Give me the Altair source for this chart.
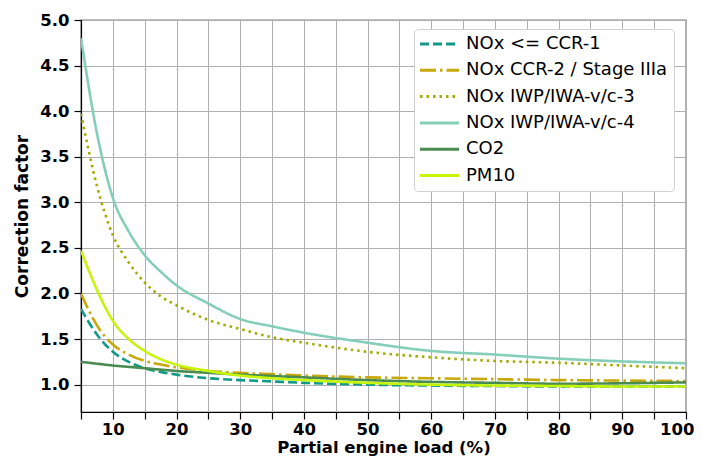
import altair as alt
import pandas as pd

series_names = [
    "NOx <= CCR-1",
    "NOx CCR-2 / Stage IIIa",
    "NOx IWP/IWA-v/c-3",
    "NOx IWP/IWA-v/c-4",
    "CO2",
    "PM10",
]
colors = ["#119a88", "#c8a80a", "#9fac00", "#85cfb8", "#4a8c50", "#c6f50a"]
dashes = [[9, 4], [16, 4, 2.5, 4], [2.5, 4], [1, 0], [1, 0], [1, 0]]

load = [5, 7.5, 10, 12.5, 15, 17.5, 20, 25, 30, 35, 40, 50, 60, 70, 80, 90, 100]

ccr1 = [1.83, 1.55, 1.36, 1.25, 1.18, 1.14, 1.11, 1.07, 1.05, 1.035, 1.02, 1.0, 0.99, 0.985, 0.98, 0.98, 0.98]
ccr2 = [2.00, 1.65, 1.44, 1.33, 1.26, 1.22, 1.19, 1.15, 1.13, 1.115, 1.10, 1.08, 1.07, 1.06, 1.05, 1.045, 1.04]
vc3 = [3.97, 3.18, 2.64, 2.34, 2.12, 1.97, 1.87, 1.71, 1.61, 1.52, 1.46, 1.36, 1.30, 1.26, 1.24, 1.21, 1.18]
vc4 = [4.80, 3.76, 3.05, 2.68, 2.42, 2.24, 2.09, 1.89, 1.72, 1.64, 1.57, 1.46, 1.37, 1.33, 1.285, 1.255, 1.235]
co2 = [1.25, 1.23, 1.21, 1.195, 1.18, 1.165, 1.15, 1.13, 1.11, 1.095, 1.08, 1.05, 1.03, 1.02, 1.01, 1.015, 1.025]
pm10 = [2.47, 2.04, 1.70, 1.50, 1.37, 1.28, 1.22, 1.15, 1.10, 1.07, 1.05, 1.02, 1.0, 0.99, 0.985, 0.98, 0.98]

values = [ccr1, ccr2, vc3, vc4, co2, pm10]

rows = []
for i, (name, vals) in enumerate(zip(series_names, values)):
    for x, y in zip(load, vals):
        rows.append({"series": name, "load": x, "factor": y, "idx": i})
df = pd.DataFrame(rows)

x_ticks = list(range(5, 101, 5))
y_ticks = [1.0, 1.5, 2.0, 2.5, 3.0, 3.5, 4.0, 4.5, 5.0]

legend_def = alt.Legend(
    title=None,
    orient="none",
    legendX=333,
    legendY=9,
)

chart = (
    alt.Chart(df)
    .mark_line(strokeWidth=2.6, interpolate="monotone", clip=True)
    .encode(
        x=alt.X(
            "load:Q",
            scale=alt.Scale(domain=[5, 100], nice=False, zero=False),
            axis=alt.Axis(
                title="Partial engine load (%)",
                values=x_ticks,
                labelExpr="datum.value % 10 == 0 ? datum.label : ''",
                labelAlign={"condition": {"test": "datum.value == 100", "value": "right"}, "value": "center"},
                labelOffset={"condition": {"test": "datum.value == 100", "value": 8}, "value": 0},
                labelPadding=2,
                titlePadding=2,
                titleFontSize=16.5,
            ),
        ),
        y=alt.Y(
            "factor:Q",
            scale=alt.Scale(domain=[0.7, 5.0], nice=False, zero=False),
            axis=alt.Axis(title="Correction factor", values=y_ticks, format=".1f"),
        ),
        color=alt.Color(
            "series:N",
            scale=alt.Scale(domain=series_names, range=colors),
            sort=series_names,
            legend=legend_def,
        ),
        strokeDash=alt.StrokeDash(
            "series:N",
            scale=alt.Scale(domain=series_names, range=dashes),
            sort=series_names,
            legend=legend_def,
        ),
        order="idx:Q",
    )
    .properties(
        width=605,
        height=392,
        autosize=alt.AutoSizeParams(type="none"),
        padding={"left": 73, "top": 12, "right": 8, "bottom": 45},
    )
    .configure_view(stroke="black", strokeWidth=1.2)
    .configure_legend(
        symbolType="M0,0H6",
        symbolSize=169,
        symbolStrokeWidth=3,
        symbolOffset=-9,
        labelOffset=37,
        labelFontSize=18,
        labelFont="DejaVu Sans",
        labelColor="black",
        labelLimit=400,
        rowPadding=8.3,
        padding=6,
        cornerRadius=4,
        strokeColor="#d0d0d0",
        fillColor="white",
    )
    .configure_axis(
        labelFont="DejaVu Sans",
        labelFontWeight="bold",
        labelFontSize=16.5,
        labelColor="black",
        titleFont="DejaVu Sans",
        titleFontWeight="bold",
        titleFontSize=17,
        titleColor="black",
        domainColor="black",
        domainWidth=1.2,
        tickColor="black",
        tickSize=7,
        tickWidth=1.2,
        grid=True,
        gridColor="#b0b0b0",
        gridWidth=1,
        labelPadding=5,
    )
    .configure_axisY(titlePadding=8)
)

chart.save("out.html", embed_options={"renderer": "svg", "actions": False})
